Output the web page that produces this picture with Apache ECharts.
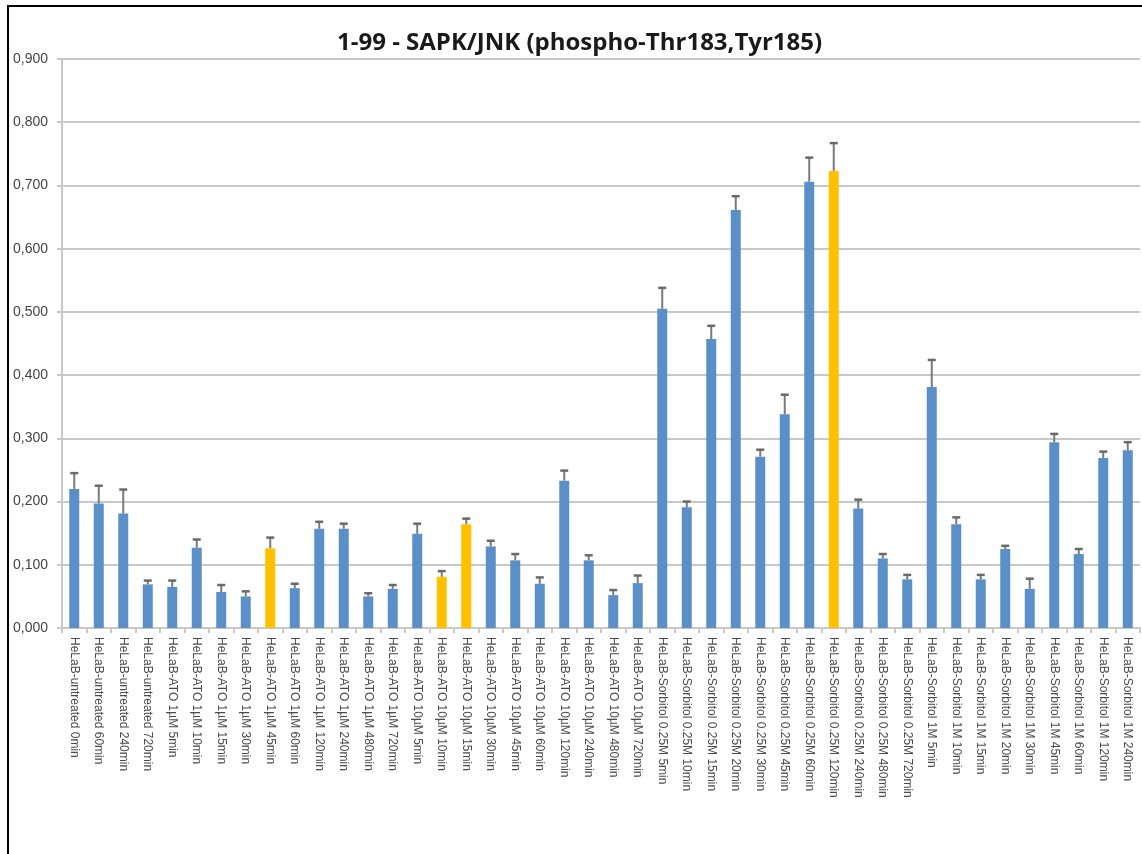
<!DOCTYPE html>
<html>
<head>
<meta charset="utf-8">
<script src="https://cdn.jsdelivr.net/npm/echarts@6/dist/echarts.min.js"></script>
<style>
  html, body { margin: 0; padding: 0; background: #ffffff; }
  #chart { width: 1142px; height: 854px; }
</style>
</head>
<body>
<div id="chart"></div>
<script>
// Sample names along the x axis
const categories = [
  'HeLaB-untreated 0min', 'HeLaB-untreated 60min', 'HeLaB-untreated 240min', 'HeLaB-untreated 720min',
  'HeLaB-ATO 1µM 5min', 'HeLaB-ATO 1µM 10min', 'HeLaB-ATO 1µM 15min', 'HeLaB-ATO 1µM 30min',
  'HeLaB-ATO 1µM 45min', 'HeLaB-ATO 1µM 60min', 'HeLaB-ATO 1µM 120min', 'HeLaB-ATO 1µM 240min',
  'HeLaB-ATO 1µM 480min', 'HeLaB-ATO 1µM 720min',
  'HeLaB-ATO 10µM 5min', 'HeLaB-ATO 10µM 10min', 'HeLaB-ATO 10µM 15min', 'HeLaB-ATO 10µM 30min',
  'HeLaB-ATO 10µM 45min', 'HeLaB-ATO 10µM 60min', 'HeLaB-ATO 10µM 120min', 'HeLaB-ATO 10µM 240min',
  'HeLaB-ATO 10µM 480min', 'HeLaB-ATO 10µM 720min',
  'HeLaB-Sorbitol 0.25M 5min', 'HeLaB-Sorbitol 0.25M 10min', 'HeLaB-Sorbitol 0.25M 15min',
  'HeLaB-Sorbitol 0.25M 20min', 'HeLaB-Sorbitol 0.25M 30min', 'HeLaB-Sorbitol 0.25M 45min',
  'HeLaB-Sorbitol 0.25M 60min', 'HeLaB-Sorbitol 0.25M 120min', 'HeLaB-Sorbitol 0.25M 240min',
  'HeLaB-Sorbitol 0.25M 480min', 'HeLaB-Sorbitol 0.25M 720min',
  'HeLaB-Sorbitol 1M 5min', 'HeLaB-Sorbitol 1M 10min', 'HeLaB-Sorbitol 1M 15min', 'HeLaB-Sorbitol 1M 20min',
  'HeLaB-Sorbitol 1M 30min', 'HeLaB-Sorbitol 1M 45min', 'HeLaB-Sorbitol 1M 60min',
  'HeLaB-Sorbitol 1M 120min', 'HeLaB-Sorbitol 1M 240min'
];

// Mean signal per sample
const values = [
  0.220, 0.197, 0.181, 0.069,
  0.065, 0.127, 0.057, 0.050, 0.126, 0.063, 0.157, 0.157, 0.050, 0.062,
  0.149, 0.081, 0.164, 0.129, 0.107, 0.070, 0.233, 0.107, 0.052, 0.071,
  0.505, 0.191, 0.457, 0.661, 0.271, 0.338, 0.706, 0.723, 0.189, 0.110, 0.077,
  0.381, 0.164, 0.077, 0.125, 0.062, 0.294, 0.117, 0.269, 0.281
];

// Upper error (standard deviation) per sample
const errors = [
  0.025, 0.028, 0.038, 0.006,
  0.010, 0.013, 0.011, 0.008, 0.017, 0.007, 0.011, 0.008, 0.005, 0.006,
  0.016, 0.009, 0.009, 0.009, 0.010, 0.010, 0.016, 0.008, 0.008, 0.012,
  0.033, 0.009, 0.021, 0.022, 0.011, 0.031, 0.038, 0.044, 0.014, 0.007, 0.007,
  0.043, 0.011, 0.007, 0.005, 0.016, 0.013, 0.008, 0.010, 0.013
];

// Samples drawn in the highlight colour
const highlighted = [
  'HeLaB-ATO 1µM 45min', 'HeLaB-ATO 10µM 10min', 'HeLaB-ATO 10µM 15min', 'HeLaB-Sorbitol 0.25M 120min'
];

// Value axis tick labels (decimal comma)
const yTickLabels = ['0,000', '0,100', '0,200', '0,300', '0,400', '0,500', '0,600', '0,700', '0,800', '0,900'];

const BLUE = '#5b8fc7';
const GOLD = '#ffc000';
const GRID_GRAY = '#c8c8c8';

const barData = values.map((v, i) => ({
  value: v,
  itemStyle: { color: highlighted.includes(categories[i]) ? GOLD : BLUE }
}));

const errData = values.map((v, i) => [i, v, v + errors[i]]);

const chart = echarts.init(document.getElementById('chart'), null, { renderer: 'canvas' });

chart.setOption({
  animation: false,
  backgroundColor: '#ffffff',
  title: {
    text: '1-99 - SAPK/JNK (phospho-Thr183,Tyr185)',
    left: 332,
    top: 26,
    textStyle: {
      fontFamily: 'Open Sans',
      fontWeight: 'bold',
      fontSize: 24,
      color: '#1a1a1a'
    }
  },
  graphic: [{
    type: 'polyline',
    shape: { points: [[8, 854], [8, 6], [1142, 6]] },
    style: { stroke: '#000000', lineWidth: 2, fill: null },
    z: 100
  }],
  grid: { left: 62, right: 2, top: 59, bottom: 226 },
  xAxis: {
    type: 'category',
    data: categories,
    axisLine: { lineStyle: { color: GRID_GRAY, width: 2 } },
    axisTick: { show: true, length: 5, lineStyle: { color: GRID_GRAY, width: 2 } },
    axisLabel: {
      interval: 0,
      rotate: -90,
      margin: 9,
      fontFamily: 'Liberation Sans',
      fontSize: 12,
      color: '#4a4a4a'
    }
  },
  yAxis: {
    type: 'value',
    min: 0,
    max: 0.9,
    interval: 0.1,
    axisLine: { show: true, lineStyle: { color: GRID_GRAY, width: 2 } },
    axisTick: { show: true, length: 5, lineStyle: { color: GRID_GRAY, width: 2 } },
    splitLine: { lineStyle: { color: GRID_GRAY, width: 2 } },
    axisLabel: {
      margin: 14,
      fontFamily: 'Liberation Sans',
      fontSize: 14,
      color: '#444444',
      formatter: (val) => yTickLabels[Math.round(val * 10)]
    }
  },
  series: [
    {
      type: 'bar',
      data: barData,
      barWidth: 10,
      z: 2
    },
    {
      type: 'custom',
      z: 3,
      data: errData,
      encode: { x: 0, y: [1, 2] },
      renderItem: (params, api) => {
        const base = api.coord([api.value(0), api.value(1)]);
        const top = api.coord([api.value(0), api.value(2)]);
        const half = 4;
        const style = { stroke: '#7a7a7a', lineWidth: 2 };
        return {
          type: 'group',
          children: [
            { type: 'line', shape: { x1: base[0], y1: base[1], x2: top[0], y2: top[1] }, style },
            { type: 'line', shape: { x1: top[0] - half, y1: top[1], x2: top[0] + half, y2: top[1] }, style: { stroke: '#6a6a6a', lineWidth: 2.5 } }
          ]
        };
      }
    }
  ]
});
</script>
</body>
</html>
